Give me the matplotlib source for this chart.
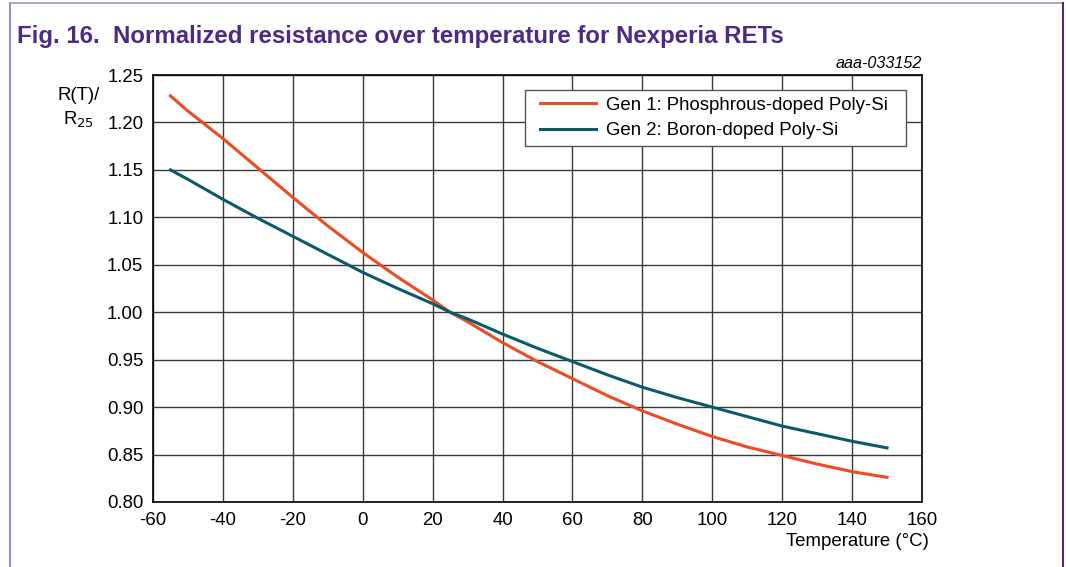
import matplotlib
matplotlib.use("Agg")
import matplotlib.pyplot as plt
from matplotlib.lines import Line2D
from matplotlib.patches import Rectangle

plt.rcParams['font.family'] = ['Liberation Sans', 'DejaVu Sans']
plt.rcParams['axes.unicode_minus'] = False

# data
temperature = [-55, -50, -40, -30, -20, -10, 0, 10, 20, 25, 30, 40, 50, 60,
               70, 80, 90, 100, 110, 120, 130, 140, 150]
gen1_phosphorus = [1.228, 1.212, 1.183, 1.152, 1.121, 1.091, 1.063, 1.037, 1.013, 1.000, 0.990,
                   0.968, 0.948, 0.930, 0.912, 0.896, 0.882, 0.869, 0.858, 0.849, 0.840, 0.832, 0.826]
gen2_boron = [1.150, 1.140, 1.119, 1.099, 1.080, 1.061, 1.042, 1.025, 1.009, 1.000, 0.993,
              0.977, 0.962, 0.948, 0.934, 0.921, 0.910, 0.900, 0.890, 0.880, 0.872, 0.864, 0.857]
labels = ['Gen 1: Phosphrous-doped Poly-Si', 'Gen 2: Boron-doped Poly-Si']
x_ticks = list(range(-60, 161, 20))
y_ticks = [0.80, 0.85, 0.90, 0.95, 1.00, 1.05, 1.10, 1.15, 1.20, 1.25]

purple = '#4e2a84'
fs = 13.4
W, H = 1066, 567
fig = plt.figure(figsize=(10.66, 5.67), dpi=100)
ax = fig.add_axes([153 / W, 1 - 502 / H, (922 - 153) / W, (502 - 75) / H])

ax.plot(temperature, gen1_phosphorus, color='#f04a22', lw=2.2, label=labels[0], zorder=3)
ax.plot(temperature, gen2_boron, color='#0b5a6c', lw=2.2, label=labels[1], zorder=3)

ax.set_xlim(-60, 160)
ax.set_ylim(0.80, 1.25)
ax.set_xticks(x_ticks)
ax.set_yticks(y_ticks)
ax.set_yticklabels([f'{v:.2f}' for v in y_ticks])
ax.tick_params(length=0, labelsize=fs, pad=7)
ax.grid(True, color='#3a3a3a', lw=1.0)
ax.set_axisbelow(True)
for s in ax.spines.values():
    s.set_color('black')
    s.set_linewidth(1.2)

# legend box drawn separately so the padding matches
ax.add_patch(Rectangle((525 / W, 1 - 146 / H), (906 - 525) / W, (146 - 90) / H,
                       transform=fig.transFigure, facecolor='white', edgecolor='#555555',
                       lw=1.0, zorder=4, clip_on=False))
ax.legend(loc='center', bbox_to_anchor=(714 / W, 1 - 118 / H),
          bbox_transform=fig.transFigure, fontsize=fs, frameon=False,
          handlelength=3.0, handletextpad=0.5, borderpad=0, borderaxespad=0,
          labelspacing=0.45)

fig.text(17 / W, 1 - 43 / H, 'Fig. 16.  Normalized resistance over temperature for Nexperia RETs',
         fontsize=17.3, fontweight='bold', color=purple, ha='left', va='baseline')
fig.text(922 / W, 1 - 68 / H, 'aaa-033152', fontsize=11.6, style='italic',
         ha='right', va='baseline')
fig.text(79 / W, 1 - 95 / H, 'R(T)/', fontsize=fs, ha='center', va='center')
fig.text(79 / W, 1 - 120 / H, 'R$_{25}$', fontsize=fs, ha='center', va='center')
fig.text(929 / W, 1 - 541 / H, 'Temperature (°C)', fontsize=fs, ha='right', va='center')

# page frame
fig.add_artist(Line2D([10 / W, 10 / W], [0, 1 - 3 / H], color='#8c72b4', lw=1.2))
fig.add_artist(Line2D([10 / W, 1063 / W], [1 - 3 / H, 1 - 3 / H], color='#a68fc9', lw=1.2))
fig.add_artist(Line2D([1063 / W, 1063 / W], [0, 1 - 3 / H], color='#4e2a84', lw=1.5))

fig.savefig('out.png', dpi=100)
